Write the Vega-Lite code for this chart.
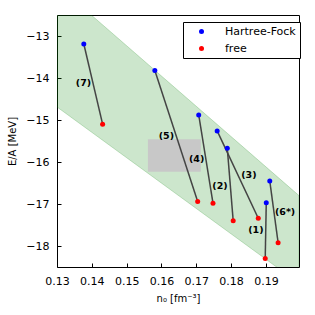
{
  "$schema": "https://vega.github.io/schema/vega-lite/v6.json",
  "width": 242,
  "height": 252,
  "autosize": {"type": "none"},
  "padding": {"left": 57, "top": 15, "right": 16, "bottom": 48},
  "config": {
    "font": "DejaVu Sans",
    "view": {"stroke": "#000000", "strokeWidth": 1},
    "axis": {"grid": false, "domain": false, "labelColor": "#000000", "titleColor": "#000000", "labelFont": "DejaVu Sans", "titleFont": "DejaVu Sans", "labelFontSize": 11, "titleFontWeight": "normal", "titleFontSize": 10, "labelOverlap": false, "labelFlush": false, "labelBound": false, "tickColor": "#000000", "tickWidth": 1}
  },
  "datasets": {
    "band": [
      {"n": 0.13, "upper": -11.79, "lower": -14.69},
      {"n": 0.1995, "upper": -16.8, "lower": -18.89}
    ],
    "box": [
      {"n1": 0.1561, "n2": 0.1713, "e1": -16.23, "e2": -15.46}
    ],
    "pairs": [
      {"pair": "7", "kind": "Hartree-Fock", "n": 0.1377, "E": -13.19},
      {"pair": "7", "kind": "free", "n": 0.1431, "E": -15.10},
      {"pair": "5", "kind": "Hartree-Fock", "n": 0.1581, "E": -13.82},
      {"pair": "5", "kind": "free", "n": 0.1704, "E": -16.94},
      {"pair": "4", "kind": "Hartree-Fock", "n": 0.1707, "E": -14.88},
      {"pair": "4", "kind": "free", "n": 0.1748, "E": -16.98},
      {"pair": "3", "kind": "Hartree-Fock", "n": 0.1760, "E": -15.26},
      {"pair": "3", "kind": "free", "n": 0.1878, "E": -17.34},
      {"pair": "2", "kind": "Hartree-Fock", "n": 0.1789, "E": -15.67},
      {"pair": "2", "kind": "free", "n": 0.1806, "E": -17.40},
      {"pair": "1", "kind": "Hartree-Fock", "n": 0.1901, "E": -16.97},
      {"pair": "1", "kind": "free", "n": 0.1898, "E": -18.30},
      {"pair": "6*", "kind": "Hartree-Fock", "n": 0.1911, "E": -16.45},
      {"pair": "6*", "kind": "free", "n": 0.1935, "E": -17.92}
    ],
    "labels": [
      {"text": "(7)", "n": 0.1376, "E": -14.13},
      {"text": "(5)", "n": 0.1614, "E": -15.37},
      {"text": "(4)", "n": 0.1701, "E": -15.93},
      {"text": "(2)", "n": 0.1768, "E": -16.56},
      {"text": "(3)", "n": 0.1851, "E": -16.31},
      {"text": "(1)", "n": 0.1871, "E": -17.63},
      {"text": "(6*)", "n": 0.1955, "E": -17.19}
    ]
  },
  "layer": [
    {
      "data": {"name": "band"},
      "mark": {"type": "area", "clip": true, "fill": "#008000", "fillOpacity": 0.2, "stroke": "#008000", "strokeOpacity": 0.2, "strokeWidth": 1},
      "encoding": {
        "x": {"field": "n", "type": "quantitative", "scale": {"domain": [0.13, 0.1995], "nice": false, "zero": false},
          "axis": {"orient": "bottom", "values": [0.13, 0.14, 0.15, 0.16, 0.17, 0.18, 0.19], "format": ".2f", "tickSize": -4, "labelPadding": 12, "title": "n₀ [fm⁻³]", "titlePadding": 7}},
        "y": {"field": "upper", "type": "quantitative", "scale": {"domain": [-18.5, -12.5], "nice": false, "zero": false},
          "axis": {"orient": "left", "values": [-18, -17, -16, -15, -14, -13], "format": "d", "tickSize": -4, "labelPadding": 12, "title": "E/A [MeV]", "titlePadding": 8}},
        "y2": {"field": "lower"}
      }
    },
    {
      "data": {"name": "box"},
      "mark": {"type": "rect", "fill": "#c8c8c8"},
      "encoding": {
        "x": {"field": "n1", "type": "quantitative",
          "axis": {"orient": "bottom", "values": [0.13, 0.14, 0.15, 0.16, 0.17, 0.18, 0.19], "format": ".2f", "tickSize": -4, "labelPadding": 12, "title": "n₀ [fm⁻³]", "titlePadding": 7}},
        "x2": {"field": "n2"},
        "y": {"field": "e1", "type": "quantitative",
          "axis": {"orient": "left", "values": [-18, -17, -16, -15, -14, -13], "format": "d", "tickSize": -4, "labelPadding": 12, "title": "E/A [MeV]", "titlePadding": 8}},
        "y2": {"field": "e2"}
      }
    },
    {
      "data": {"name": "pairs"},
      "mark": {"type": "line", "color": "#444444", "strokeWidth": 1.5},
      "encoding": {
        "detail": {"field": "pair"},
        "x": {"field": "n", "type": "quantitative",
          "axis": {"orient": "bottom", "values": [0.13, 0.14, 0.15, 0.16, 0.17, 0.18, 0.19], "format": ".2f", "tickSize": -4, "labelPadding": 12, "title": "n₀ [fm⁻³]", "titlePadding": 7}},
        "y": {"field": "E", "type": "quantitative",
          "axis": {"orient": "left", "values": [-18, -17, -16, -15, -14, -13], "format": "d", "tickSize": -4, "labelPadding": 12, "title": "E/A [MeV]", "titlePadding": 8}}
      }
    },
    {
      "data": {"name": "pairs"},
      "mark": {"type": "point", "filled": true, "size": 25, "opacity": 1},
      "encoding": {
        "x": {"field": "n", "type": "quantitative",
          "axis": {"orient": "bottom", "values": [0.13, 0.14, 0.15, 0.16, 0.17, 0.18, 0.19], "format": ".2f", "tickSize": -4, "labelPadding": 12, "title": "n₀ [fm⁻³]", "titlePadding": 7}},
        "y": {"field": "E", "type": "quantitative",
          "axis": {"orient": "left", "values": [-18, -17, -16, -15, -14, -13], "format": "d", "tickSize": -4, "labelPadding": 12, "title": "E/A [MeV]", "titlePadding": 8}},
        "color": {"field": "kind", "type": "nominal", "scale": {"domain": ["Hartree-Fock", "free"], "range": ["#0000ff", "#ff0000"]},
          "legend": {"title": null, "orient": "none", "legendX": 126, "legendY": 7, "strokeColor": "#000000", "fillColor": "#ffffff", "padding": 4, "cornerRadius": 0, "symbolType": "circle", "symbolSize": 25, "labelFontSize": 11, "labelFont": "DejaVu Sans", "labelColor": "#000000", "symbolOffset": 9, "labelOffset": 18, "rowPadding": 5, "zindex": 2}}
      }
    },
    {
      "data": {"name": "labels"},
      "mark": {"type": "text", "font": "DejaVu Sans", "fontWeight": "bold", "fontSize": 9.5, "color": "#000000"},
      "encoding": {
        "x": {"field": "n", "type": "quantitative",
          "axis": {"orient": "bottom", "values": [0.13, 0.14, 0.15, 0.16, 0.17, 0.18, 0.19], "format": ".2f", "tickSize": -4, "labelPadding": 12, "title": "n₀ [fm⁻³]", "titlePadding": 7}},
        "y": {"field": "E", "type": "quantitative",
          "axis": {"orient": "left", "values": [-18, -17, -16, -15, -14, -13], "format": "d", "tickSize": -4, "labelPadding": 12, "title": "E/A [MeV]", "titlePadding": 8}},
        "text": {"field": "text"}
      }
    }
  ]
}
